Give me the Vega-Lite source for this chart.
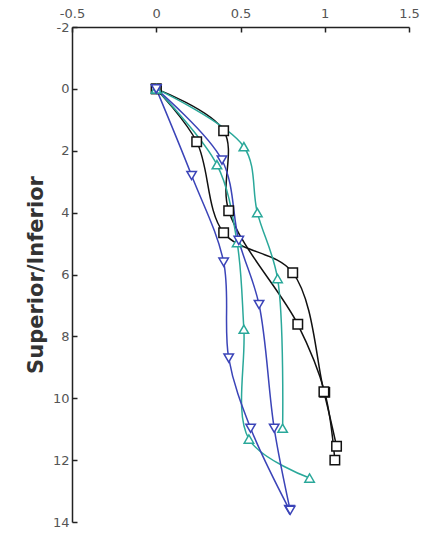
{
  "$schema": "https://vega.github.io/schema/vega-lite/v6.json",
  "autosize": {"type": "none"},
  "padding": {"left": 72, "top": 27, "right": 35, "bottom": 14},
  "width": 337,
  "height": 495,
  "background": "white",
  "config": {"view": {"stroke": null}},
  "data": {"values": [
    {"s": "K1", "g": "black", "i": 0, "x": 0, "y": 0},
    {"s": "K1", "g": "black", "i": 1, "x": 0.40, "y": 1.35},
    {"s": "K1", "g": "black", "i": 2, "x": 0.43, "y": 3.94},
    {"s": "K1", "g": "black", "i": 3, "x": 0.84, "y": 7.61},
    {"s": "K1", "g": "black", "i": 4, "x": 1.0, "y": 9.81},
    {"s": "K1", "g": "black", "i": 5, "x": 1.06, "y": 12.0},
    {"s": "K2", "g": "black", "i": 0, "x": 0, "y": 0},
    {"s": "K2", "g": "black", "i": 1, "x": 0.24, "y": 1.71},
    {"s": "K2", "g": "black", "i": 2, "x": 0.40, "y": 4.65},
    {"s": "K2", "g": "black", "i": 3, "x": 0.81, "y": 5.94},
    {"s": "K2", "g": "black", "i": 4, "x": 0.995, "y": 9.79},
    {"s": "K2", "g": "black", "i": 5, "x": 1.07, "y": 11.55},
    {"s": "T1", "g": "teal", "i": 0, "x": 0, "y": 0},
    {"s": "T1", "g": "teal", "i": 1, "x": 0.52, "y": 1.87},
    {"s": "T1", "g": "teal", "i": 2, "x": 0.60, "y": 4.0},
    {"s": "T1", "g": "teal", "i": 3, "x": 0.72, "y": 6.13},
    {"s": "T1", "g": "teal", "i": 4, "x": 0.75, "y": 10.97},
    {"s": "T2", "g": "teal", "i": 0, "x": 0, "y": 0},
    {"s": "T2", "g": "teal", "i": 1, "x": 0.36, "y": 2.45},
    {"s": "T2", "g": "teal", "i": 2, "x": 0.48, "y": 4.97},
    {"s": "T2", "g": "teal", "i": 3, "x": 0.52, "y": 7.77},
    {"s": "T2", "g": "teal", "i": 4, "x": 0.55, "y": 11.32},
    {"s": "T2", "g": "teal", "i": 5, "x": 0.91, "y": 12.58},
    {"s": "B1", "g": "blue", "i": 0, "x": 0, "y": 0},
    {"s": "B1", "g": "blue", "i": 1, "x": 0.21, "y": 2.8},
    {"s": "B1", "g": "blue", "i": 2, "x": 0.40, "y": 5.6},
    {"s": "B1", "g": "blue", "i": 3, "x": 0.43, "y": 8.7},
    {"s": "B1", "g": "blue", "i": 4, "x": 0.56, "y": 10.97},
    {"s": "B1", "g": "blue", "i": 5, "x": 0.79, "y": 13.6},
    {"s": "B2", "g": "blue", "i": 0, "x": 0, "y": 0},
    {"s": "B2", "g": "blue", "i": 1, "x": 0.39, "y": 2.3},
    {"s": "B2", "g": "blue", "i": 2, "x": 0.49, "y": 4.9},
    {"s": "B2", "g": "blue", "i": 3, "x": 0.61, "y": 6.97},
    {"s": "B2", "g": "blue", "i": 4, "x": 0.70, "y": 10.97},
    {"s": "B2", "g": "blue", "i": 5, "x": 0.795, "y": 13.62}
  ]},
  "encoding": {
    "x": {"field": "x", "type": "quantitative",
      "scale": {"domain": [-0.5, 1.5], "nice": false, "zero": false},
      "axis": {"orient": "top", "values": [-0.5, 0, 0.5, 1, 1.5], "title": null, "grid": false,
        "labelExpr": "toString(datum.value)",
        "domainColor": "#222", "domainWidth": 1.5, "tickColor": "#222", "tickWidth": 1.5, "tickSize": -5,
        "labelPadding": 12, "labelColor": "#555", "labelFont": "DejaVu Sans", "labelFontSize": 13, "labelFlush": false}},
    "y": {"field": "y", "type": "quantitative",
      "scale": {"domain": [-2, 14], "reverse": true, "nice": false, "zero": false},
      "axis": {"orient": "left", "values": [-2, 0, 2, 4, 6, 8, 10, 12, 14], "title": "Superior/Inferior", "grid": false,
        "labelExpr": "toString(datum.value)",
        "domainColor": "#222", "domainWidth": 1.5, "tickColor": "#222", "tickWidth": 1.5, "tickSize": -5,
        "labelPadding": 8, "labelColor": "#555", "labelFont": "DejaVu Sans", "labelFontSize": 13, "labelFlush": false,
        "titleFont": "DejaVu Sans", "titleFontSize": 21, "titleFontWeight": "bold", "titleColor": "#333", "titlePadding": 6}},
    "color": {"field": "g", "type": "nominal",
      "scale": {"domain": ["black", "teal", "blue"], "range": ["#111111", "#2aa89a", "#3b44b8"]}, "legend": null}
  },
  "layer": [
    {"mark": {"type": "line", "interpolate": "catmull-rom", "strokeWidth": 1.5},
     "encoding": {"detail": {"field": "s"}, "order": {"field": "i", "type": "quantitative"}}},
    {"mark": {"type": "point", "filled": false, "strokeWidth": 1.5, "fill": "white", "fillOpacity": 1, "opacity": 1},
     "encoding": {
       "shape": {"field": "g", "type": "nominal",
         "scale": {"domain": ["black", "teal", "blue"], "range": ["square", "triangle-up", "triangle-down"]}, "legend": null},
       "size": {"value": 90}}}
  ]
}
